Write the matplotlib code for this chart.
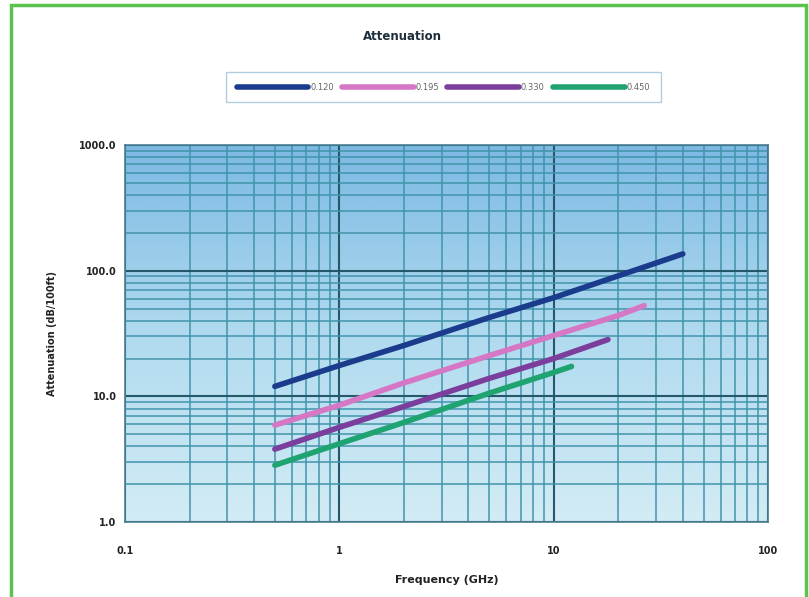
import numpy as np
import matplotlib
matplotlib.use('Agg')
import matplotlib.pyplot as plt
from matplotlib.ticker import LogLocator, FixedLocator, NullFormatter
from matplotlib.patches import Rectangle

# data (GHz, dB/100ft)
freq_120 = [0.5, 1, 2, 5, 10, 20, 40]
att_120 = [12.0, 17.6, 25.4, 42.4, 61.0, 91.0, 136.0]
freq_195 = [0.5, 1, 2, 5, 10, 20, 26.4]
att_195 = [5.9, 8.5, 12.8, 21.1, 30.5, 44.0, 52.7]
freq_330 = [0.5, 1, 2, 5, 10, 17.9]
att_330 = [3.8, 5.67, 8.3, 13.9, 20.0, 28.3]
freq_450 = [0.5, 1, 2, 5, 10, 12.1]
att_450 = [2.83, 4.2, 6.2, 10.6, 15.5, 17.3]

labels = ['0.120', '0.195', '0.330', '0.450']
colors = ['#1b3b8c', '#d677c6', '#7b3e9c', '#1fa371']

x_ticks = [0.1, 1, 10, 100]
x_ticklabels = ['0.1', '1', '10', '100']
y_ticks = [1, 10, 100, 1000]
y_ticklabels = ['1.0', '10.0', '100.0', '1000.0']

fig = plt.figure(figsize=(8.09, 5.97), dpi=100)
fig.patches.append(Rectangle((11/809, -0.05), (806-11)/809, 1.05 - 5/597,
                             transform=fig.transFigure, fill=False,
                             edgecolor='#5cc24e', linewidth=2.5))

ax = fig.add_axes([0.1545, 0.1256, 0.795, 0.6315])
ax.set_xscale('log')
ax.set_yscale('log')
ax.set_xlim(0.1, 100)
ax.set_ylim(1, 1000)

# gradient background
grad = np.linspace(0, 1, 256).reshape(-1, 1)
cmap = matplotlib.colors.LinearSegmentedColormap.from_list('bg', ['#d3ecf5', '#b0daef', '#7cb9e3'])
ax.imshow(grad, aspect='auto', cmap=cmap, origin='lower', extent=[0, 1, 0, 1],
          transform=ax.transAxes, zorder=0)

ax.xaxis.set_major_locator(FixedLocator(x_ticks))
ax.yaxis.set_major_locator(FixedLocator(y_ticks))
ax.xaxis.set_minor_locator(LogLocator(base=10, subs=np.arange(2, 10)))
ax.yaxis.set_minor_locator(LogLocator(base=10, subs=np.arange(2, 10)))
ax.xaxis.set_minor_formatter(NullFormatter())
ax.yaxis.set_minor_formatter(NullFormatter())
ax.set_xticklabels(x_ticklabels, fontsize=7, fontweight='heavy', color='#222222')
ax.set_yticklabels(y_ticklabels, fontsize=7, fontweight='heavy', color='#222222')
ax.tick_params(which='both', length=0)
ax.tick_params(axis='x', pad=17)
ax.tick_params(axis='y', pad=6)

ax.grid(which='major', color='#24586b', linewidth=1.5, zorder=1)
ax.grid(which='minor', color='#3f93aa', linewidth=1.2, alpha=0.9, zorder=1)
ax.set_axisbelow(True)
for s in ax.spines.values():
    s.set_color('#4a7f92')
    s.set_linewidth(1.2)

ax.plot(freq_120, att_120, color=colors[0], lw=4, solid_capstyle='round', label=labels[0], zorder=3)
ax.plot(freq_195, att_195, color=colors[1], lw=4, solid_capstyle='round', label=labels[1], zorder=3)
ax.plot(freq_330, att_330, color=colors[2], lw=4, solid_capstyle='round', label=labels[2], zorder=3)
ax.plot(freq_450, att_450, color=colors[3], lw=4, solid_capstyle='round', label=labels[3], zorder=3)

ax.set_xlabel('Frequency (GHz)', fontsize=8, fontweight='heavy', color='#222222', labelpad=14)
ax.set_ylabel('Attenuation (dB/100ft)', fontsize=7, fontweight='heavy', color='#222222', labelpad=16)

fig.text(0.498, 1 - 36/597, 'Attenuation', ha='center', va='center',
         fontsize=8.5, fontweight='heavy', color='#1e2e3a')

leg = fig.legend(loc='center', bbox_to_anchor=(0.548, 1 - 87/597), ncol=4,
                 fontsize=6, handlelength=8.6, handletextpad=0.2, columnspacing=1.0,
                 frameon=True, fancybox=False, edgecolor='#9cc0d8', borderpad=1.3)
for t in leg.get_texts():
    t.set_color('#666666')

fig.savefig('out.png', dpi=100)
